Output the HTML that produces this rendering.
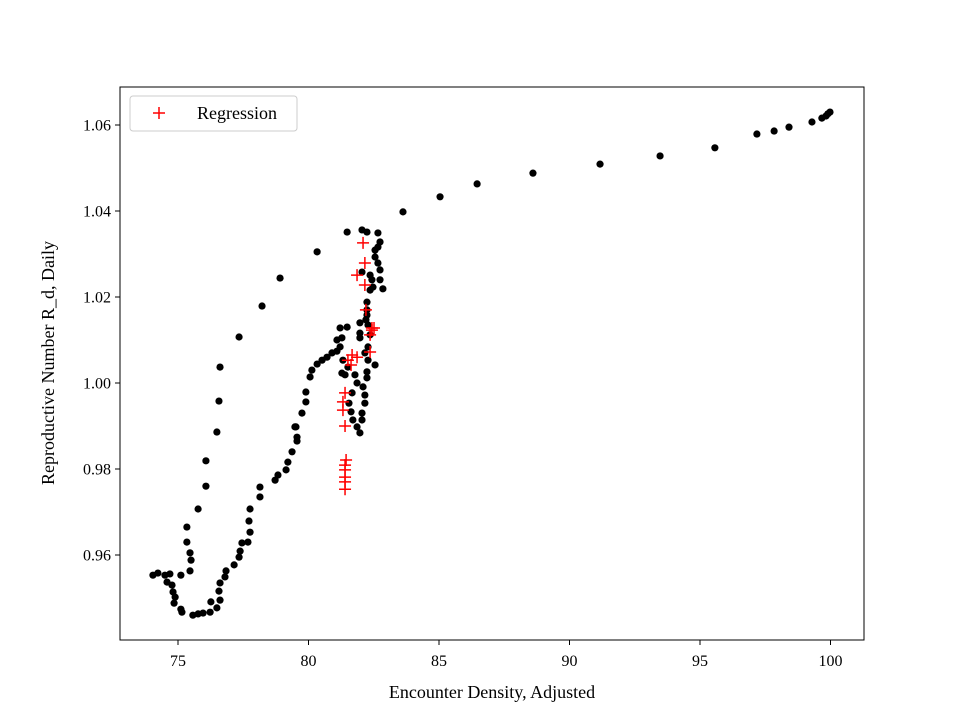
<!DOCTYPE html>
<html><head><meta charset="utf-8"><style>
html,body{margin:0;padding:0;background:#fff;}
svg{display:block;font-family:"Liberation Serif",serif;}
</style></head><body>
<svg id="chart" width="960" height="720">
<rect x="120" y="87" width="744" height="553" fill="none" stroke="#000" stroke-width="1"/>
<g id="marks"></g>
<g id="axes"></g>
<text x="492" y="698" font-size="18" text-anchor="middle">Encounter Density, Adjusted</text>
<text transform="translate(54,363) rotate(-90)" font-size="18" text-anchor="middle">Reproductive Number R_d, Daily</text>
<g>
<rect x="130" y="96" width="167" height="35" rx="3" fill="#fff" stroke="#ccc" stroke-width="1"/>
<path d="M153 113h12M159 107v12" stroke="red" stroke-width="1.5"/>
<text x="197" y="119" font-size="18">Regression</text>
</g>
</svg>
<script>
const xTicks=[75,80,85,90,95,100];
const yTicks=[0.96,0.98,1.00,1.02,1.04,1.06];
const yTickLabels=["0.96","0.98","1.00","1.02","1.04","1.06"];
const blackX=[99.98,99.90,99.83,99.67,99.29,98.41,97.84,97.18,95.57,93.47,91.17,88.60,86.46,85.04,83.62,80.33,78.91,78.22,77.34,76.61,76.57,76.49,76.07,76.07,75.77,75.34,75.34,75.46,75.50,75.46,75.11,
74.04,74.23,74.50,74.69,74.58,74.77,74.81,74.89,74.85,75.15,75.11,75.57,75.77,75.96,76.23,76.26,76.49,76.61,76.57,76.61,76.80,76.84,77.15,77.34,77.38,77.45,77.68,77.76,77.72,77.76,78.14,78.14,78.72,78.83,79.14,79.21,79.37,79.56,79.52,
79.56,79.48,79.75,79.90,79.90,80.06,80.13,80.33,80.52,80.71,80.90,81.09,81.21,81.28,81.21,81.48,81.09,81.32,81.28,81.40,81.51,
81.78,81.86,81.67,81.55,81.63,81.70,81.86,81.97,82.05,82.05,82.16,82.16,82.09,82.24,82.24,82.55,82.28,82.28,82.16,81.97,81.97,81.97,82.20,82.24,82.24,82.24,82.36,82.47,82.85,82.43,82.36,82.05,82.74,82.74,82.66,82.55,82.55,82.66,82.74,82.66,82.24,82.05,81.48,82.36,82.28];
const blackY=[1.0630,1.0626,1.0621,1.0616,1.0607,1.0595,1.0586,1.0579,1.0547,1.0528,1.0509,1.0488,1.0463,1.0433,1.0398,1.0305,1.0244,1.0179,1.0107,1.0037,0.9958,0.9886,0.9819,0.9760,0.9707,0.9665,0.9630,0.9605,0.9588,0.9563,0.9553,
0.9553,0.9558,0.9553,0.9556,0.9537,0.9530,0.9514,0.9502,0.9488,0.9467,0.9474,0.9460,0.9463,0.9465,0.9467,0.9491,0.9477,0.9495,0.9516,0.9535,0.9549,0.9563,0.9577,0.9595,0.9609,0.9628,0.9630,0.9653,0.9679,0.9707,0.9735,0.9758,0.9774,0.9786,0.9798,0.9816,0.9840,0.9865,0.9898,
0.9874,0.9898,0.9930,0.9956,0.9979,1.0014,1.0030,1.0044,1.0053,1.0060,1.0070,1.0074,1.0084,1.0105,1.0128,1.0130,1.0100,1.0053,1.0023,1.0019,1.0037,
1.0019,1.0000,0.9977,0.9953,0.9933,0.9914,0.9898,0.9884,0.9914,0.9930,0.9953,0.9972,0.9991,1.0012,1.0026,1.0042,1.0053,1.0084,1.0070,1.0140,1.0116,1.0105,1.0147,1.0170,1.0188,1.0158,1.0216,1.0223,1.0219,1.0240,1.0251,1.0258,1.0240,1.0263,1.0279,1.0293,1.0309,1.0316,1.0328,1.0349,1.0351,1.0356,1.0351,1.0112,1.0135];
const redX=[82.09,82.16,81.86,82.16,82.20,82.43,82.36,82.36,81.67,81.86,81.51,81.63,81.40,81.32,81.32,81.40,81.44,81.40,81.40,81.40,81.40,81.40,82.43,82.51];
const redY=[1.0326,1.0279,1.0251,1.0228,1.0170,1.0128,1.0112,1.0072,1.0065,1.0060,1.0053,1.0042,0.9977,0.9956,0.9937,0.9900,0.9821,0.9809,0.9798,0.9781,0.9770,0.9753,1.0123,1.0128];
const X=v=>178+(v-75)*26.1;
const Y=v=>383-(v-1)*4300;
const NS="http://www.w3.org/2000/svg";
const marks=document.getElementById('marks'),axes=document.getElementById('axes');
blackX.forEach((x,i)=>{
  const c=document.createElementNS(NS,'circle');
  c.setAttribute('cx',X(x));c.setAttribute('cy',Y(blackY[i]));c.setAttribute('r',3.6);c.setAttribute('fill','#000');
  
  
  marks.appendChild(c);
});
redX.forEach((x,i)=>{
  const p=document.createElementNS(NS,'path');
  const cx=X(x),cy=Y(redY[i]);
  p.setAttribute('d',`M${cx-6} ${cy}h12M${cx} ${cy-6}v12`);p.setAttribute('stroke','red');p.setAttribute('stroke-width','1.5');
  
  
  marks.appendChild(p);
});
xTicks.forEach(t=>{
  const l=document.createElementNS(NS,'line');
  l.setAttribute('x1',X(t));l.setAttribute('x2',X(t));l.setAttribute('y1',640);l.setAttribute('y2',645);l.setAttribute('stroke','#000');
  
  
  axes.appendChild(l);
  const tx=document.createElementNS(NS,'text');
  tx.setAttribute('x',X(t));tx.setAttribute('y',666);tx.setAttribute('font-size','16');tx.setAttribute('text-anchor','middle');
  tx.textContent=t;
  
  
  axes.appendChild(tx);
});
yTicks.forEach((t,i)=>{
  const l=document.createElementNS(NS,'line');
  l.setAttribute('x1',115);l.setAttribute('x2',120);l.setAttribute('y1',Y(t));l.setAttribute('y2',Y(t));l.setAttribute('stroke','#000');
  
  
  axes.appendChild(l);
  const tx=document.createElementNS(NS,'text');
  tx.setAttribute('x',111);tx.setAttribute('y',Y(t)+5.5);tx.setAttribute('font-size','16');tx.setAttribute('text-anchor','end');
  tx.textContent=yTickLabels[i];
  
  
  axes.appendChild(tx);
});
</script>
</body></html>
